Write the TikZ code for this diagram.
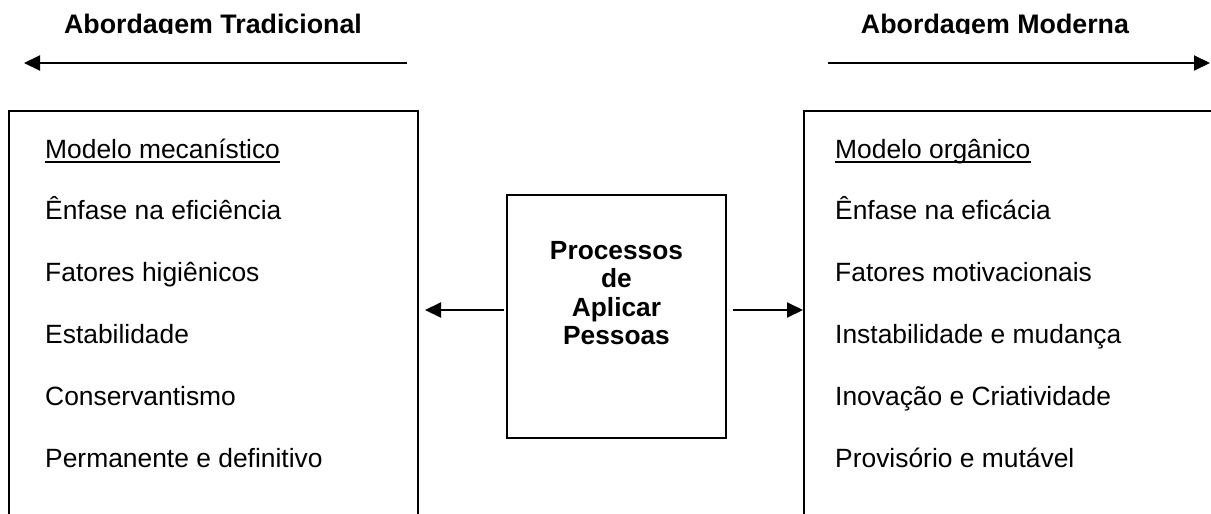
\documentclass[tikz,border=0pt]{standalone}
\usepackage{fontspec}
\setmainfont{Liberation Sans}
\usetikzlibrary{positioning,arrows.meta}

\tikzset{
  item/.style={anchor=base west, inner sep=0pt, text height=20pt, text depth=6pt,
    font=\fontsize{26.4}{30}\selectfont},
  heading/.style={anchor=base, inner sep=0pt, font=\bfseries\fontsize{26.8}{30}\selectfont},
  proctext/.style={inner sep=0pt, align=center, font=\bfseries\fontsize{26.3}{28.5}\selectfont},
  frame/.style={draw, line width=2pt},
  link/.style={line width=2pt, -{Triangle[length=16pt,width=15pt]}},
}

\begin{document}
\begin{tikzpicture}[x=1pt,y=-1pt]
\useasboundingbox (0,0) rectangle (1211,514);
\clip (0,0) rectangle (1211,514);
% headings
\begin{scope}
 \clip (0,0) rectangle (1211,33.5);
 \node[heading] (htrad) at (213,33) {Abordagem Tradicional};
 \node[heading] (hmod) at (995,33) {Abordagem Moderna};
\end{scope}
\coordinate (tradtail) at (407,63);
\coordinate (tradtip) at (24,63);
\coordinate (modtail) at (828,63);
\coordinate (modtip) at (1210,63);
% boxes
\node[frame, anchor=north west, minimum width=409pt, minimum height=500pt] (trad) at (8,110) {};
\node[frame, anchor=north west, minimum width=409pt, minimum height=500pt] (mod) at (803,110) {};
\node[frame, minimum width=219pt, minimum height=243pt] (proc) at (616.5,316.5) {};
\node[proctext, below=47pt of proc.north] (proclabel) {Processos\\de\\Aplicar\\Pessoas};
% left list
\node[item] (t0) at (45,158) {Modelo mecanístico};
\node[item, below=35.4pt of t0.south west, anchor=north west] (t1) {Ênfase na eficiência};
\node[item, below=35.4pt of t1.south west, anchor=north west] (t2) {Fatores higiênicos};
\node[item, below=35.4pt of t2.south west, anchor=north west] (t3) {Estabilidade};
\node[item, below=35.4pt of t3.south west, anchor=north west] (t4) {Conservantismo};
\node[item, below=35.4pt of t4.south west, anchor=north west] (t5) {Permanente e definitivo};
% right list
\node[item] (m0) at (835,158) {Modelo orgânico};
\node[item, below=35.4pt of m0.south west, anchor=north west] (m1) {Ênfase na eficácia};
\node[item, below=35.4pt of m1.south west, anchor=north west] (m2) {Fatores motivacionais};
\node[item, below=35.4pt of m2.south west, anchor=north west] (m3) {Instabilidade e mudança};
\node[item, below=35.4pt of m3.south west, anchor=north west] (m4) {Inovação e Criatividade};
\node[item, below=35.4pt of m4.south west, anchor=north west] (m5) {Provisório e mutável};
\draw[line width=1.6pt] ([yshift=-4pt]t0.base west) -- ([yshift=-4pt]t0.base east);
\draw[line width=1.6pt] ([yshift=-4pt]m0.base west) -- ([yshift=-4pt]m0.base east);
% edges
\draw[link] (tradtail) -- (tradtip);
\draw[link] (modtail) -- (modtip);
\draw[link, shorten <=2pt, shorten >=6pt] ([yshift=6.5pt]proc.west) -- ([yshift=6.5pt]trad.east |- proc.west);
\draw[link, shorten <=6pt] ([yshift=6.5pt]proc.east) -- ([yshift=6.5pt]mod.west |- proc.east);
\end{tikzpicture}
\end{document}
